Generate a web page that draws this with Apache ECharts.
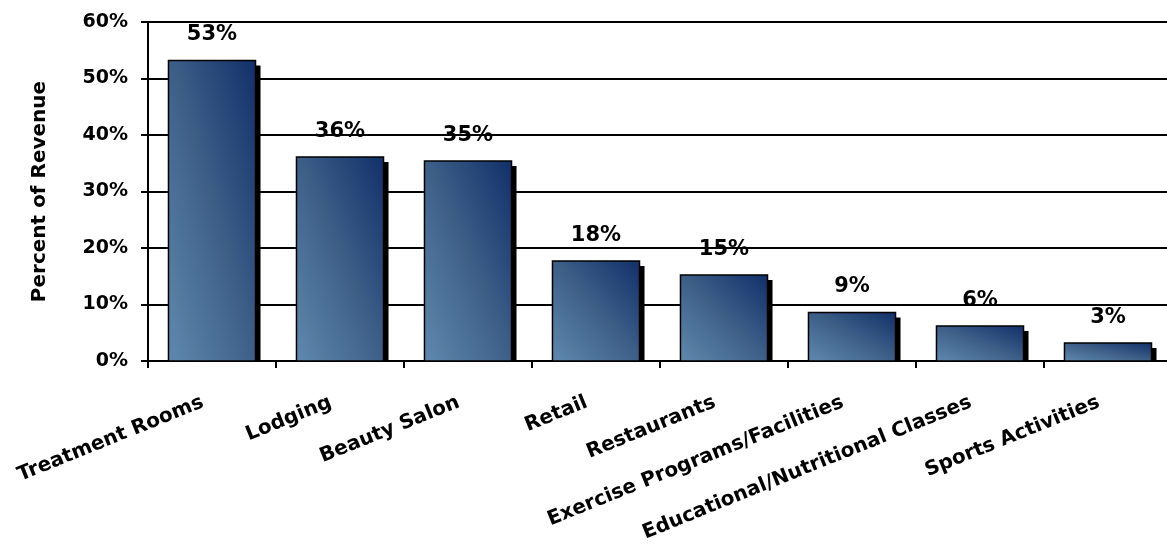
<!DOCTYPE html>
<html>
<head>
<meta charset="utf-8">
<script src="https://cdn.jsdelivr.net/npm/echarts@6/dist/echarts.min.js"></script>
<style>
  html, body { margin: 0; padding: 0; background: #fff; }
  #chart { width: 1167px; height: 544px; }
</style>
</head>
<body>
<div id="chart"></div>
<script>
const categories = [
  'Treatment Rooms',
  'Lodging',
  'Beauty Salon',
  'Retail',
  'Restaurants',
  'Exercise Programs/Facilities',
  'Educational/Nutritional Classes',
  'Sports Activities',
]
const revenueShare = [53.2, 36.1, 35.4, 17.7, 15.2, 8.6, 6.2, 3.2]
const shareLabels = ['53%', '36%', '35%', '18%', '15%', '9%', '6%', '3%']

const font = 'DejaVu Sans, Verdana, sans-serif'
const chart = echarts.init(document.getElementById('chart'))

// diagonal fill like the office charts: light bottom-left, dark top-right,
// iso-lines running corner to corner whatever the bar's aspect ratio
const barFill = (x, y, w, h) => {
  const k = (2 * w * h) / (w * w + h * h)
  return new echarts.graphic.LinearGradient(
    x, y + h,
    x + h * k, y + h - w * k,
    [
      { offset: 0, color: '#6088ad' },
      { offset: 0.5, color: '#3e6088' },
      { offset: 1, color: '#12306a' },
    ],
    true
  )
}

const renderBar = (params, api) => {
  const idx = api.value(0)
  const top = api.coord([idx, api.value(1)])
  const base = api.coord([idx, 0])
  const w = api.size([1, 0])[0] * 0.68
  const x = top[0] - w / 2
  const h = base[1] - top[1]
  return {
    type: 'group',
    children: [
      {
        type: 'rect',
        shape: { x: x + 5, y: top[1] + 5, width: w, height: Math.max(h - 5, 0) },
        style: { fill: '#000' },
      },
      {
        type: 'rect',
        shape: { x, y: top[1], width: w, height: h },
        style: { fill: barFill(x, top[1], w, h), stroke: '#000', lineWidth: 1.5 },
      },
      {
        type: 'text',
        x: top[0],
        y: top[1] - 15,
        style: {
          text: shareLabels[params.dataIndex],
          fill: '#000',
          font: `bold 21px ${font}`,
          align: 'center',
          verticalAlign: 'bottom',
        },
      },
    ],
  }
}

chart.setOption({
  animation: false,
  grid: {
    left: 148, top: 22, right: -5, bottom: 183,
    containLabel: false,
    outerBoundsMode: 'none',
  },
  xAxis: {
    type: 'category',
    data: categories,
    axisLine: { lineStyle: { color: '#000', width: 2 } },
    axisTick: { show: true, length: 7, lineStyle: { color: '#000', width: 2 } },
    axisLabel: {
      interval: 0,
      rotate: 22,
      margin: 37,
      padding: [0, 10, 0, 0],
      color: '#000',
      fontFamily: font,
      fontWeight: 'bold',
      fontSize: 20,
    },
  },
  yAxis: {
    type: 'value',
    min: 0,
    max: 60,
    interval: 10,
    name: 'Percent of Revenue',
    nameLocation: 'middle',
    nameGap: 98,
    nameTextStyle: { color: '#000', fontFamily: font, fontWeight: 'bold', fontSize: 20 },
    axisLine: { show: true, lineStyle: { color: '#000', width: 2 } },
    axisTick: { show: true, length: 7, lineStyle: { color: '#000', width: 2 } },
    splitLine: { lineStyle: { color: '#000', width: 2 } },
    axisLabel: {
      formatter: '{value}%',
      margin: 20,
      color: '#000',
      fontFamily: font,
      fontWeight: 'bold',
      fontSize: 19,
    },
  },
  series: [
    {
      type: 'custom',
      renderItem: renderBar,
      data: revenueShare.map((v, i) => [i, v]),
      encode: { x: 0, y: 1 },
    },
  ],
})
</script>
</body>
</html>
